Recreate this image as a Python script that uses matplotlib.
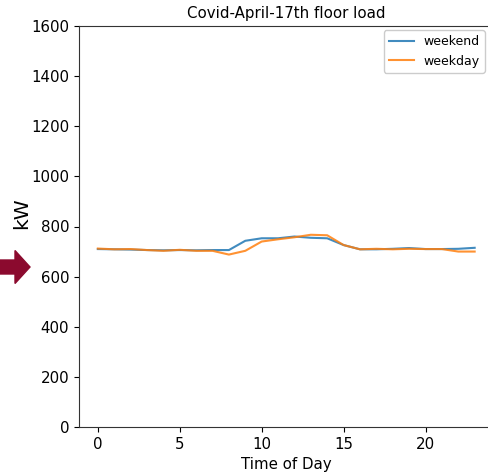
import matplotlib
matplotlib.use("Agg")
import matplotlib.pyplot as plt
from matplotlib.patches import FancyArrow

hours = list(range(24))
weekend = [710, 709, 708, 706, 705, 706, 705, 706, 706, 743, 753, 753,
           760, 755, 753, 726, 709, 709, 711, 714, 710, 710, 711, 715]
weekday = [712, 709, 710, 706, 703, 707, 703, 703, 688, 703, 740, 749,
           757, 767, 765, 726, 709, 711, 709, 711, 710, 710, 700, 700]
title = "Covid-April-17th floor load"
xlabel = "Time of Day"
ylabel = "kW"

W, H = 488, 476
fig = plt.figure(figsize=(W / 100, H / 100), dpi=100)
ax = fig.add_axes([79 / W, (H - 427) / H, (493.5 - 79) / W, (427 - 26) / H])
ax.plot(hours, weekend, color="#1f77b4", lw=1.5, alpha=0.85, label="weekend")
ax.plot(hours, weekday, color="#ff7f0e", lw=1.5, alpha=0.85, label="weekday")
ax.set_ylim(0, 1600)
ax.set_xlim(-1.15, 24.15)
ax.set_xticks([0, 5, 10, 15, 20])
ax.set_yticks(range(0, 1601, 200))
ax.tick_params(labelsize=10.8)
for s in ax.spines.values():
    s.set_color("#333333")
ax.set_title(title, fontsize=10.8)
ax.set_xlabel(xlabel, fontsize=10.8)
fig.text(22 / W, 1 - 213 / H, ylabel, rotation=90, fontsize=14.5,
         ha="center", va="center")
fig.legend(loc="upper right", bbox_to_anchor=(491 / W, 1 - 24 / H),
           fontsize=9, framealpha=1)

arrow = FancyArrow(0, 1 - 267 / H, 30 / W, 0, width=14 / H,
                   head_width=33 / H, head_length=15 / W,
                   length_includes_head=True, color="#8b0a2e",
                   transform=fig.transFigure)
fig.patches.append(arrow)

fig.savefig("out.png", dpi=100)
